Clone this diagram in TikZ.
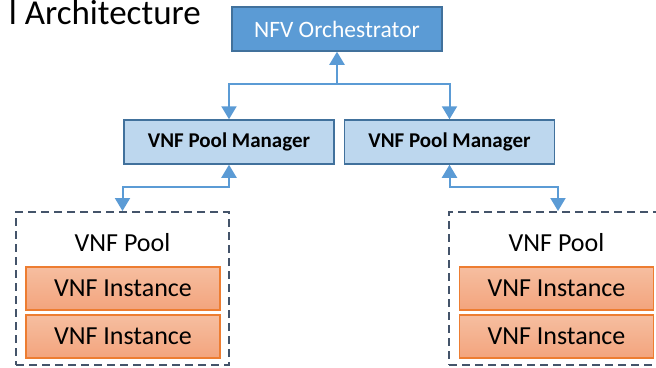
\documentclass[tikz,border=0pt]{standalone}
\usepackage{fontspec}
\setmainfont{Carlito}
\usetikzlibrary{arrows.meta}

\definecolor{orchblue}{HTML}{5B9BD5}
\definecolor{edgeblue}{HTML}{41719C}
\definecolor{mgrblue}{HTML}{BDD7EE}
\definecolor{linkblue}{HTML}{5B9BD5}
\definecolor{poolgrey}{HTML}{44546A}
\definecolor{instedge}{HTML}{ED7D31}
\definecolor{insttop}{HTML}{F6BEA0}
\definecolor{instbot}{HTML}{F3A47D}

\begin{document}
\begin{tikzpicture}[x=1pt,y=-1pt]
	\tikzstyle{every node}+=[inner sep=0pt]
	\tikzstyle{orchbox}=[draw=edgeblue, fill=orchblue, line width=1.5pt, minimum width=210pt, minimum height=44pt, text=white, font=\fontsize{23.5}{26}\selectfont]
	\tikzstyle{mgrbox}=[draw=edgeblue, fill=mgrblue, line width=1.5pt, minimum width=210pt, minimum height=44pt, font=\fontsize{21}{24}\selectfont\bfseries]
	\tikzstyle{poolbox}=[draw=poolgrey, line width=2pt, dash pattern=on 8pt off 5pt, minimum width=213pt, minimum height=153pt]
	\tikzstyle{instbox}=[draw=instedge, line width=1.2pt, top color=insttop, bottom color=instbot, minimum width=194pt, minimum height=43pt, font=\fontsize{26}{28}\selectfont]
	\tikzstyle{pooltext}=[font=\fontsize{26}{28}\selectfont]
	\tikzstyle{conn}=[draw=linkblue, line width=2pt, arrows={-Triangle[length=13pt,width=15pt]}]
	\tikzstyle{biconn}=[draw=linkblue, line width=2pt, arrows={Triangle[length=13pt,width=15pt]-Triangle[length=13pt,width=15pt]}]

	\useasboundingbox (0,0) rectangle (656,367);
	\clip (0,0) rectangle (656,367);

	% title, cut at the left edge
	\node (title) [anchor=base east, font=\fontsize{35}{38}\selectfont] at (201,24) {l Architecture};

	% orchestrator and managers
	\node (orch) [orchbox] at (337,29) {NFV Orchestrator};
	\node (lmgr) [mgrbox] at (229,142) {VNF Pool Manager};
	\node (rmgr) [mgrbox] at (449.5,142) {VNF Pool Manager};

	% pools
	\node (lpool) [poolbox] at (122.5,288.5) {};
	\node (rpool) [poolbox, minimum width=218pt] at (558,288.5) {};
	\node (lpooltext) [pooltext] at (122.5,243) {VNF Pool};
	\node (rpooltext) [pooltext] at (556.5,243) {VNF Pool};
	\node (linst1) [instbox] at (123,288.5) {VNF Instance};
	\node (linst2) [instbox] at (123,336.5) {VNF Instance};
	\node (rinst1) [instbox] at (556.5,288.5) {VNF Instance};
	\node (rinst2) [instbox] at (556.5,336.5) {VNF Instance};

	% connectors
	\coordinate (obus) at (337,84);
	\draw [biconn] (lmgr.north) |- (obus) -| (rmgr.north);
	\draw [conn] (obus) -- (orch.south);
	\draw [biconn] (lpool.north) -- ++(0,-24) -| (lmgr.south);
	\draw [biconn] (rpool.north) -- ++(0,-24) -| (rmgr.south);
\end{tikzpicture}
\end{document}
